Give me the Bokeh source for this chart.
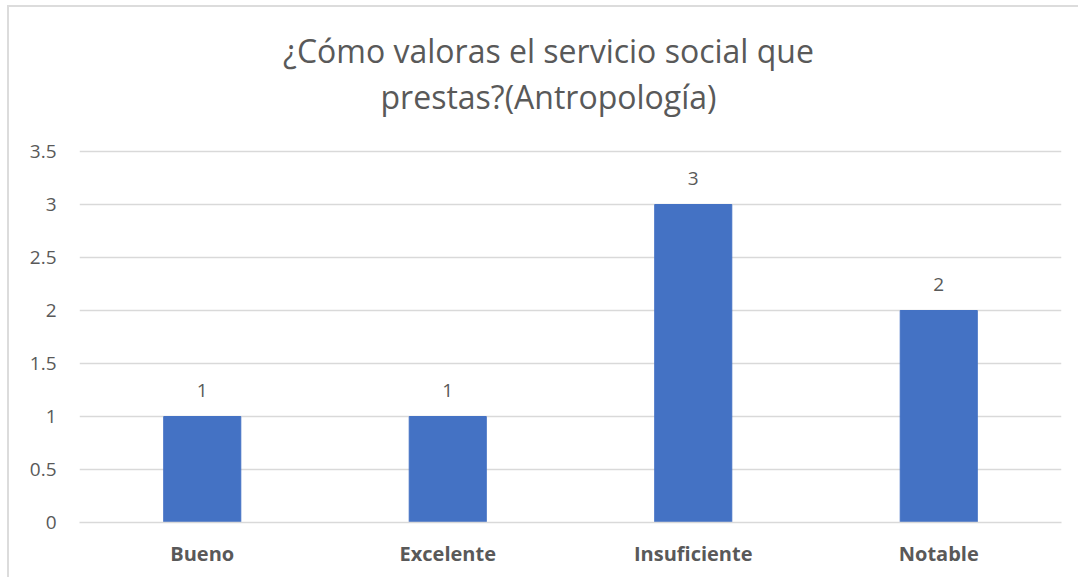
from bokeh.plotting import figure
from bokeh.models import ColumnDataSource, LabelSet, FixedTicker, Label, Range1d
from bokeh.core.properties import value
from bokeh.embed import file_html
from bokeh.resources import INLINE

categories = ["Bueno", "Excelente", "Insuficiente", "Notable"]
values = [1, 1, 3, 2]
y_ticks = [0, 0.5, 1, 1.5, 2, 2.5, 3, 3.5]
y_tick_labels = ["0", "0.5", "1", "1.5", "2", "2.5", "3", "3.5"]
title_lines = ["¿Cómo valoras el servicio social que", "prestas?(Antropología)"]

FONT = "Open Sans"
GRAY = "#595959"

# frame spans the whole canvas height above the x axis; the value axis
# occupies its lower 371 px (0..3.5), the title sits in the space above
Y_MAX = 3.5
FRAME_H = 515
AXIS_H = 371
y_end = Y_MAX * FRAME_H / AXIS_H

src = ColumnDataSource(dict(cat=categories, val=values, lbl=[str(v) for v in values]))

p = figure(x_range=categories, y_range=Range1d(0, y_end), width=1071, height=572,
           output_backend="svg", toolbar_location=None,
           min_border_left=70, min_border_right=19, min_border_top=0, min_border_bottom=57)
p.title = None

for txt, yy in zip(title_lines, [472, 426]):
    p.add_layout(Label(x=469, y=yy, x_units="screen", y_units="screen", text=txt,
                       text_align="center", text_baseline="alphabetic",
                       text_font=FONT, text_font_size="32px", text_color=GRAY))

p.styles = {"margin-left": "7px", "margin-top": "5px",
            "border-left": "2px solid #dcdcdc", "border-top": "2px solid #dcdcdc"}

p.vbar(x="cat", top="val", width=0.314, source=src, color="#4472C4")

labels = LabelSet(x="cat", y="val", text="lbl", source=src, text_align="center",
                  text_baseline="middle", y_offset=26, text_font=value(FONT),
                  text_font_size=value("19px"), text_color=value(GRAY))
p.add_layout(labels)

p.outline_line_color = None
p.xgrid.grid_line_color = None
p.ygrid.grid_line_color = "#d9d9d9"
p.ygrid.grid_line_width = 1.5
p.yaxis.ticker = FixedTicker(ticks=y_ticks)
p.yaxis.major_label_overrides = {t_: l for t_, l in zip(y_ticks, y_tick_labels)}
p.yaxis.axis_line_color = None
p.yaxis.major_tick_line_color = None
p.yaxis.minor_tick_line_color = None
p.yaxis.major_label_standoff = 17
p.yaxis.major_label_text_font = FONT
p.yaxis.major_label_text_font_size = "19px"
p.yaxis.major_label_text_color = GRAY

p.xaxis.axis_line_color = "#d9d9d9"
p.xaxis.axis_line_width = 1.5
p.xaxis.major_tick_line_color = None
p.xaxis.major_label_standoff = 11
p.xaxis.major_label_text_font = FONT
p.xaxis.major_label_text_font_size = "20px"
p.xaxis.major_label_text_font_style = "bold"
p.xaxis.major_label_text_color = GRAY
p.x_range.range_padding = 0

open("out.html", "w").write(file_html(p, INLINE))
